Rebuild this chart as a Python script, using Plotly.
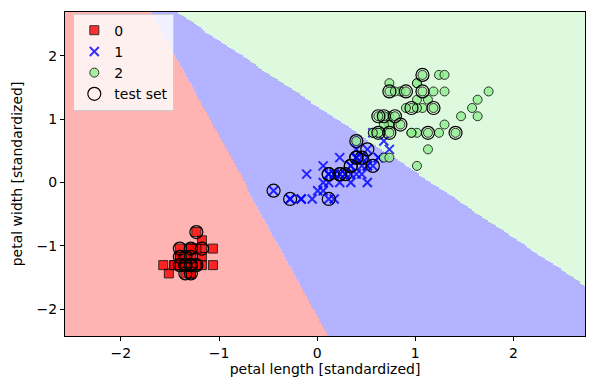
import numpy as np
import plotly.graph_objects as go

# ---- Iris petal measurements (cm), per class ----
setosa_length = [1.4,1.4,1.3,1.5,1.4,1.7,1.4,1.5,1.4,1.5,1.5,1.6,1.4,1.1,1.2,1.5,1.3,1.4,1.7,1.5,
                 1.7,1.5,1.0,1.7,1.9,1.6,1.6,1.5,1.4,1.6,1.6,1.5,1.5,1.4,1.5,1.2,1.3,1.5,1.3,1.5,
                 1.3,1.3,1.3,1.6,1.9,1.4,1.6,1.4,1.5,1.4]
setosa_width = [0.2,0.2,0.2,0.2,0.2,0.4,0.3,0.2,0.2,0.1,0.2,0.2,0.1,0.1,0.2,0.4,0.4,0.3,0.3,0.3,
                0.2,0.4,0.2,0.5,0.2,0.2,0.4,0.2,0.2,0.2,0.2,0.4,0.1,0.2,0.1,0.2,0.2,0.1,0.2,0.2,
                0.3,0.3,0.2,0.6,0.4,0.3,0.2,0.2,0.2,0.2]
versicolor_length = [4.7,4.5,4.9,4.0,4.6,4.5,4.7,3.3,4.6,3.9,3.5,4.2,4.0,4.7,3.6,4.4,4.5,4.1,4.5,3.9,
                     4.8,4.0,4.9,4.7,4.3,4.4,4.8,5.0,4.5,3.5,3.8,3.7,3.9,5.1,4.5,4.5,4.7,4.4,4.1,4.0,
                     4.4,4.6,4.0,3.3,4.2,4.2,4.2,4.3,3.0,4.1]
versicolor_width = [1.4,1.5,1.5,1.3,1.5,1.3,1.6,1.0,1.3,1.4,1.0,1.5,1.0,1.4,1.3,1.4,1.5,1.0,1.5,1.1,
                    1.8,1.3,1.5,1.2,1.3,1.4,1.4,1.7,1.5,1.0,1.1,1.0,1.2,1.6,1.5,1.6,1.5,1.3,1.3,1.3,
                    1.2,1.4,1.2,1.0,1.3,1.2,1.3,1.3,1.1,1.3]
virginica_length = [6.0,5.1,5.9,5.6,5.8,6.6,4.5,6.3,5.8,6.1,5.1,5.3,5.5,5.0,5.1,5.3,5.5,6.7,6.9,5.0,
                    5.7,4.9,6.7,4.9,5.7,6.0,4.8,4.9,5.6,5.8,6.1,6.4,5.6,5.1,5.6,6.1,5.6,5.5,4.8,5.4,
                    5.6,5.1,5.1,5.9,5.7,5.2,5.0,5.2,5.4,5.1]
virginica_width = [2.5,1.9,2.1,1.8,2.2,2.1,1.7,1.8,1.8,2.5,2.0,1.9,2.1,2.0,2.4,2.3,1.8,2.2,2.3,1.5,
                   2.3,2.0,2.0,1.8,2.1,1.8,1.8,1.8,2.1,1.6,1.9,2.0,2.2,1.5,1.4,2.3,2.4,1.8,1.8,2.1,
                   2.4,2.3,1.9,2.3,2.5,2.3,1.9,2.0,2.3,1.8]

# ---- test-set samples (circled), cm ----
test_length = [1.6,1.3,1.5,1.7,1.4,1.3,1.5,1.4,1.4,1.3,1.5,1.6,1.4,1.5,1.5,
               3.0,3.3,4.0,4.0,4.2,4.3,4.4,4.5,4.6,4.8,4.7,4.5,4.0,4.2,4.4,
               5.7,5.1,5.4,5.7,5.5,5.9,4.9,5.2,5.3,4.9,5.1,5.8,6.3,4.5,5.0]
test_width = [0.6,0.4,0.4,0.4,0.3,0.3,0.3,0.2,0.2,0.2,0.2,0.2,0.1,0.1,0.2,
              1.1,1.0,1.0,1.3,1.3,1.3,1.4,1.5,1.5,1.4,1.6,1.5,1.3,1.3,1.4,
              2.5,2.3,2.3,2.3,2.1,2.1,2.0,2.0,1.9,1.8,1.8,1.8,1.8,1.7,2.0]

# ---- standardization (mean, std) ----
length_mean, length_std = 3.79, 1.78
width_mean, width_std = 1.20, 0.766

# ---- linear decision function per class (score = a*x + b*y + c) ----
coef_length = [-1.0, 0.0, 1.0365]
coef_width = [-0.352, 0.0, 1.0]
intercept = [-0.741, 0.0, -1.205]

class_names = ["0", "1", "2"]
x_range = [-2.569, 2.729]
y_range = [-2.424, 2.69]
tick_vals = [-2, -1, 0, 1, 2]
tick_text = ["\u22122", "\u22121", "0", "1", "2"]


def std_l(v):
    return (np.array(v) - length_mean) / length_std


def std_w(v):
    return (np.array(v) - width_mean) / width_std


# decision surface on a grid
res = 0.02
gx = np.arange(x_range[0], x_range[1] + res, res)
gy = np.arange(y_range[0], y_range[1] + res, res)
XX, YY = np.meshgrid(gx, gy)
scores = np.stack([coef_length[k] * XX + coef_width[k] * YY + intercept[k] for k in range(3)])
Z = np.argmax(scores, axis=0)

region_colors = ["#FFB3B3", "#B3B3FF", "#DEFADE"]
cs = [[0, region_colors[0]], [1/3, region_colors[0]], [1/3, region_colors[1]],
      [2/3, region_colors[1]], [2/3, region_colors[2]], [1, region_colors[2]]]

fig = go.Figure()
fig.add_trace(go.Heatmap(x=gx, y=gy, z=Z, colorscale=cs, zmin=-0.5, zmax=2.5,
                         showscale=False, hoverinfo="skip", zsmooth=False))

fig.add_trace(go.Scatter(x=std_l(setosa_length), y=std_w(setosa_width), mode="markers",
                         name=class_names[0],
                         marker=dict(symbol="square", size=9, color="red", opacity=0.8,
                                     line=dict(color="black", width=1))))
fig.add_trace(go.Scatter(x=std_l(versicolor_length), y=std_w(versicolor_width), mode="markers",
                         name=class_names[1],
                         marker=dict(symbol="x-thin", size=9, color="blue", opacity=0.8,
                                     line=dict(color="blue", width=2))))
fig.add_trace(go.Scatter(x=std_l(virginica_length), y=std_w(virginica_width), mode="markers",
                         name=class_names[2],
                         marker=dict(symbol="circle", size=9, color="lightgreen", opacity=0.8,
                                     line=dict(color="black", width=1))))
fig.add_trace(go.Scatter(x=std_l(test_length), y=std_w(test_width), mode="markers",
                         name="test set",
                         marker=dict(symbol="circle-open", size=13, color="black",
                                     line=dict(color="black", width=1.2))))

font = dict(family="DejaVu Sans", size=14, color="black")
axis_common = dict(showline=True, linecolor="black", linewidth=1, mirror=True,
                   ticks="outside", ticklen=4, tickcolor="black", tickwidth=1,
                   showgrid=False, zeroline=False, tickvals=tick_vals, ticktext=tick_text,
                   tickfont=font, automargin=False)
# page body adds an 8px offset, so the figure is 8px smaller on each axis
fig.update_layout(
    width=605, height=369,
    margin=dict(l=57, r=28, t=4, b=41),
    paper_bgcolor="white", plot_bgcolor="white",
    font=font,
    showlegend=True,
    legend=dict(x=0.016, y=0.995, xanchor="left", yanchor="top",
                bgcolor="rgba(255,255,255,0.8)", bordercolor="#cccccc", borderwidth=1,
                font=dict(family="DejaVu Sans", size=14, color="black"),
                tracegroupgap=0),
    xaxis=dict(range=x_range, title=dict(text="petal length [standardized]", font=font, standoff=3),
               **axis_common),
    yaxis=dict(range=y_range, title=dict(text="petal width [standardized]", font=font, standoff=10),
               **axis_common),
)

fig.write_html("out.html")
